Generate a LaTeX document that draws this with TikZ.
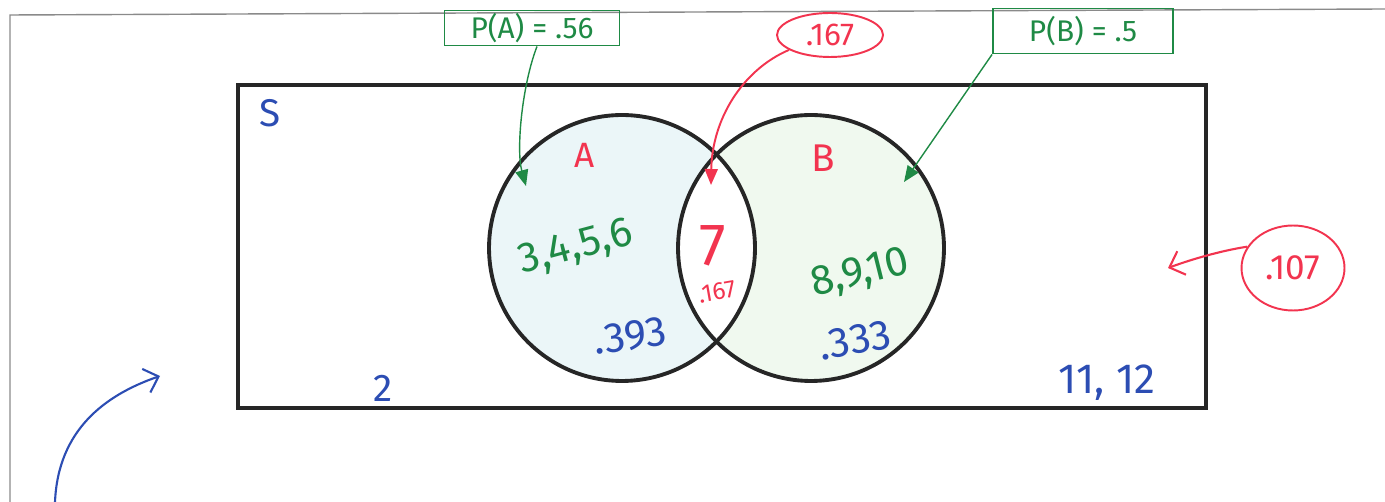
\documentclass[tikz,border=0pt]{standalone}
\usepackage{fontspec}
\setmainfont{Fira Sans}
\usetikzlibrary{positioning,arrows.meta,shapes.geometric}
\definecolor{ink}{HTML}{262626}
\definecolor{pagegray}{HTML}{8A8A8A}
\definecolor{penred}{HTML}{F2344F}
\definecolor{pengreen}{HTML}{1F8A45}
\definecolor{penblue}{HTML}{2C4DB3}
\definecolor{tintA}{HTML}{EBF6F8}
\definecolor{tintB}{HTML}{F0F9EF}

\newcommand{\penfont}[1]{\fontsize{#1}{#1}\selectfont}

\begin{document}
\begin{tikzpicture}[
  x=0.02cm,y=-0.02cm,
  ring/.style={draw=ink,circle,line width=2.2pt,minimum size=5.32cm,inner sep=0pt},
  space/.style={draw=ink,line width=2.3pt,minimum width=19.36cm,minimum height=6.46cm,inner sep=0pt},
  tagbox/.style={draw=pengreen,line width=1.1pt,text=pengreen,inner sep=0pt,font=\penfont{17pt}},
  bubble/.style={draw=penred,ellipse,line width=1.1pt,text=penred,inner sep=0pt},
  lbl/.style={inner sep=0pt},
  gfl/.style={draw=pengreen,line width=0.8pt,-{Triangle[length=3.2mm,width=2.6mm]}},
  rfl/.style={draw=penred,line width=1.1pt,-{Triangle[length=3.2mm,width=2.6mm]}},
  open/.style={line width=1.2pt,-{Straight Barb[length=2.6mm,width=5mm]}},
]
\useasboundingbox (0,0) rectangle (1385,502);

%------------------------------------------------------------- page edge ---
\draw[pagegray,line width=0.8pt] (10,502) -- (10,15) -- (1385,9);

%---------------------------------------------------------- sample space ---
\node[space] (S) at (722,246.5) {};
\node[lbl,text=penblue,font=\penfont{22pt}] (sname) at (270,113) {S};

%----------------------------------------------------------------- circles ---
\fill[tintA] (622,248) circle (2.66cm);
\fill[tintB] (811,248) circle (2.66cm);
\begin{scope}
  \clip (622,248) circle (2.66cm);
  \fill[white] (811,248) circle (2.66cm);
\end{scope}
\node[ring] (vennA) at (622,248) {};
\node[ring] (vennB) at (811,248) {};

\node[lbl,text=penred,font=\penfont{20pt}] (nameA) at (585,155) {A};
\node[lbl,text=penred,font=\penfont{22pt}] (nameB) at (823,158) {B};

%------------------------------------------------------------------ regions ---
\node[lbl,text=pengreen,font=\penfont{24pt},rotate=15] (onlyA) at (576,248) {3,4,5,6};
\node[lbl,text=penblue,font=\penfont{24pt},rotate=8] (pA) at (630,336) {.393};
\node[lbl,text=penred,font=\penfont{34pt}] (both) at (713,246) {7};
\node[lbl,text=penred,font=\penfont{14pt},rotate=10] (pAB) at (717,292) {.167};
\node[lbl,text=pengreen,font=\penfont{24pt},rotate=14] (onlyB) at (860,274) {8,9,10};
\node[lbl,text=penblue,font=\penfont{24pt},rotate=10] (pB) at (855,340) {.333};
\node[lbl,text=penblue,font=\penfont{22pt}] (none1) at (383,388) {2};
\node[lbl,text=penblue,font=\penfont{24pt}] (none2) at (1107,383) {11, 12};

%------------------------------------------------------------------ callouts ---
\node[tagbox,minimum width=3.5cm,minimum height=0.7cm] (boxA) at (532,28) {P(A) = .56};
\node[tagbox,minimum width=3.6cm,minimum height=0.9cm] (boxB) at (1083,31) {P(B) = .5};
\node[bubble,minimum width=2.12cm,minimum height=0.88cm,font=\penfont{18pt}] (ring167) at (830,35) {.167};
\node[bubble,minimum width=2.06cm,minimum height=1.7cm,font=\penfont{20pt}] (ring107) at (1293,268) {.107};

\coordinate (tipA) at (526,186);
\coordinate (tipAB) at (711,185);
\coordinate (tipB) at (904,182);
\coordinate (tipOut) at (1168,268);
\coordinate (tailS) at (55,502);
\coordinate (tipS) at (160,376);

\draw[gfl] ([xshift=1mm]boxA.south) .. controls (522,85) and (516,150) .. (tipA);
\draw[rfl] (ring167.200) .. controls (742,70) and (712,120) .. (tipAB);
\draw[gfl] (boxB.south west) -- (tipB);
\draw[open,draw=penred] (ring107.155) .. controls (1225,250) and (1195,258) .. (tipOut);
\draw[open,draw=penblue] (tailS) .. controls (58,430) and (105,395) .. (tipS);

\end{tikzpicture}
\end{document}
